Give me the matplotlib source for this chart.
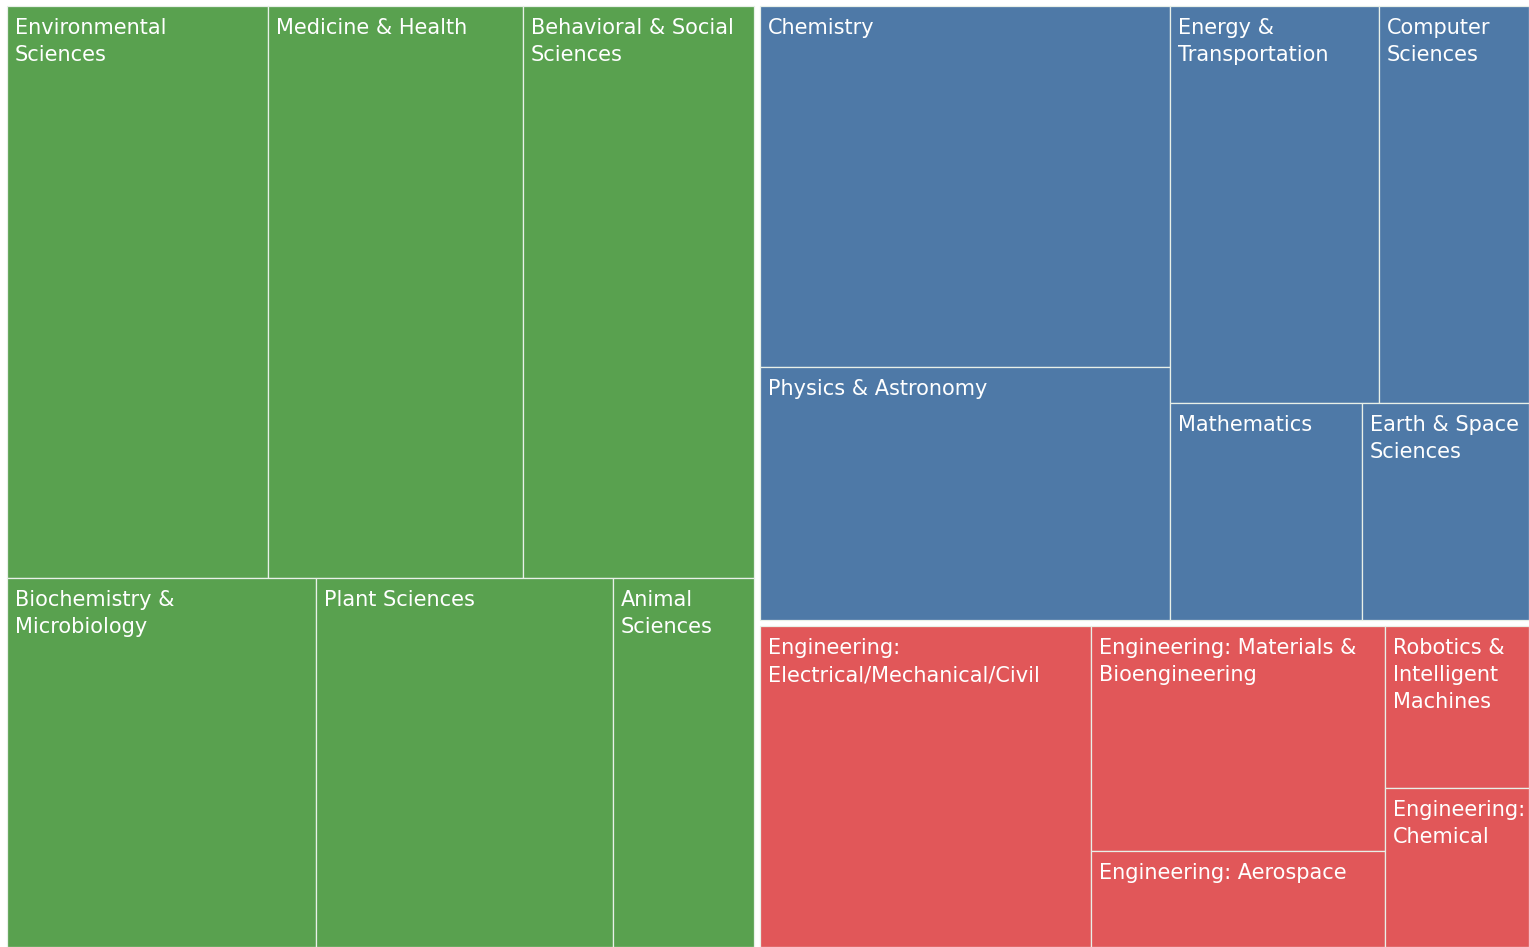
import matplotlib
matplotlib.use("Agg")
import matplotlib.pyplot as plt
from matplotlib.patches import Rectangle

# Treemap data: share of projects per category (per mille), grouped in three fields
GROUP_NAMES = ["Life & Social Sciences", "Physical Sciences", "Engineering"]
GROUP_COLORS = ["#59a14f", "#4e79a7", "#e15759"]

life_labels = ["Environmental\nSciences", "Medicine & Health", "Behavioral & Social\nSciences",
               "Biochemistry &\nMicrobiology", "Plant Sciences", "Animal\nSciences"]
life_values = [104.7, 102.3, 92.6, 79.9, 76.8, 36.5]

phys_labels = ["Chemistry", "Physics & Astronomy", "Energy &\nTransportation",
               "Computer\nSciences", "Mathematics", "Earth & Space\nSciences"]
phys_values = [104.1, 73.0, 58.4, 41.9, 29.3, 25.5]

eng_labels = ["Engineering:\nElectrical/Mechanical/Civil", "Engineering: Materials &\nBioengineering",
              "Engineering: Aerospace", "Robotics &\nIntelligent\nMachines", "Engineering:\nChemical"]
eng_values = [75.4, 46.9, 20.0, 16.5, 16.2]

GROUP_LABELS = [life_labels, phys_labels, eng_labels]
GROUP_VALUES = [life_values, phys_values, eng_values]

W, H = 1529, 947
PHI = (1 + 5 ** 0.5) / 2
GAP = 3  # half of the white gap between groups


def squarify(values, x0, y0, x1, y1, ratio=PHI):
    """Port of d3's squarified tiling (y grows downward)."""
    rects = []
    n = len(values)
    value = float(sum(values))
    i0 = i1 = 0
    while i0 < n:
        dx, dy = x1 - x0, y1 - y0
        sum_v = values[i1]
        i1 += 1
        min_v = max_v = sum_v
        alpha = max(dy / dx, dx / dy) / (value * ratio)
        beta = sum_v * sum_v * alpha
        min_ratio = max(max_v / beta, beta / min_v)
        while i1 < n:
            nv = values[i1]
            s = sum_v + nv
            mn, mx = min(min_v, nv), max(max_v, nv)
            beta = s * s * alpha
            new_ratio = max(mx / beta, beta / mn)
            if new_ratio > min_ratio:
                break
            sum_v, min_v, max_v, min_ratio = s, mn, mx, new_ratio
            i1 += 1
        row = values[i0:i1]
        if dx < dy:
            yb = y0 + dy * sum_v / value if value else y1
            xs = x0
            for v in row:
                w = dx * v / sum_v
                rects.append((xs, y0, w, yb - y0))
                xs += w
            y0 = yb
        else:
            xb = x0 + dx * sum_v / value if value else x1
            ys = y0
            for v in row:
                h = dy * v / sum_v
                rects.append((x0, ys, xb - x0, h))
                ys += h
            x0 = xb
        value -= sum_v
        i0 = i1
    return rects


fig = plt.figure(figsize=(W / 100, H / 100), dpi=100)
ax = fig.add_axes([0, 0, 1, 1])
ax.set_xlim(0, W)
ax.set_ylim(H, 0)
ax.axis("off")

group_sums = [sum(v) for v in GROUP_VALUES]
group_rects = squarify(group_sums, 4, 3, W + 3, H + 3)

for (gx, gy, gw, gh), labels, values, color in zip(group_rects, GROUP_LABELS, GROUP_VALUES, GROUP_COLORS):
    x0, y0, x1, y1 = gx + GAP, gy + GAP, gx + gw - GAP, gy + gh - GAP
    order = sorted(range(len(values)), key=lambda i: -values[i])
    leaf_rects = squarify([values[i] for i in order], x0, y0, x1, y1)
    for i, (lx, ly, lw, lh) in zip(order, leaf_rects):
        ax.add_patch(Rectangle((lx, ly), lw, lh, facecolor=color, edgecolor="#e8f0e8",
                               linewidth=0.9))
        ax.text(lx + 8, ly + 12, labels[i], color="white", fontsize=15, family="DejaVu Sans",
                ha="left", va="top", linespacing=1.43)

fig.savefig("out.png", dpi=100)
